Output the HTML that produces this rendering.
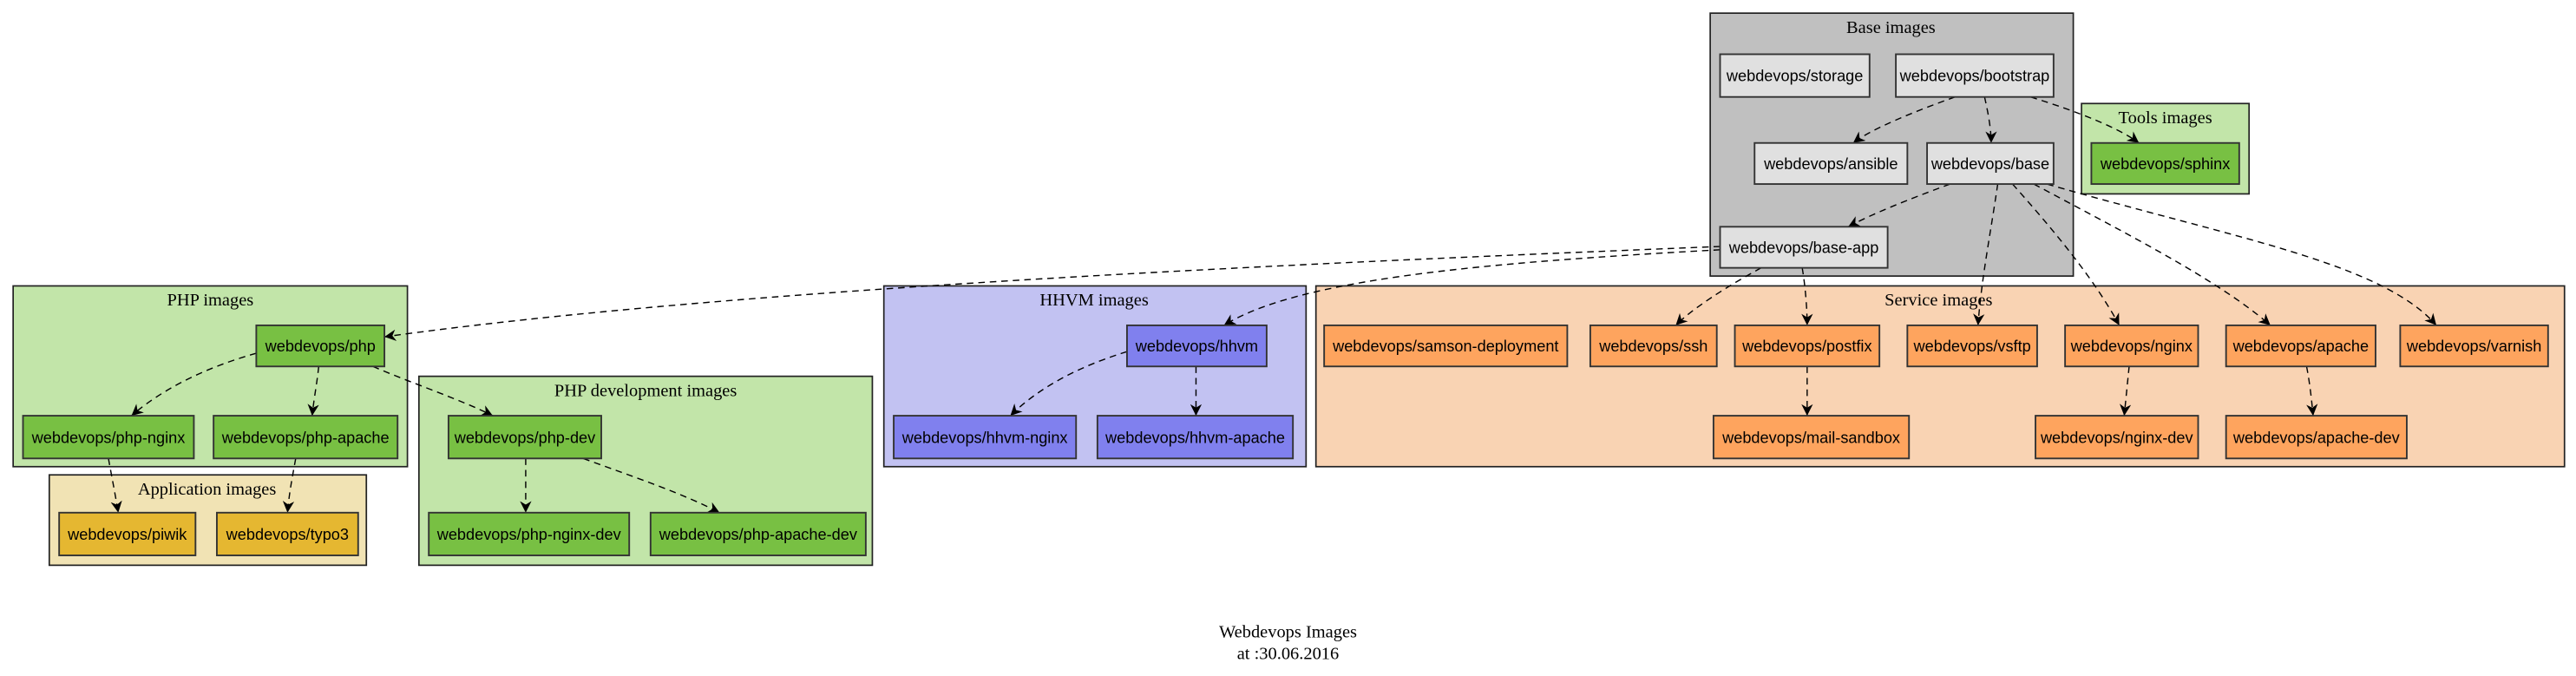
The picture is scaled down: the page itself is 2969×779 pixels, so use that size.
<!DOCTYPE html>
<html><head><meta charset="utf-8"><style>
html,body{margin:0;padding:0;background:#fff;width:2969px;height:779px;overflow:hidden}
svg{display:block}
.n{stroke:#333;stroke-width:1}
.nt{font-family:"Liberation Sans",sans-serif;font-size:9.6px;text-anchor:middle;fill:#000}
.ct{font-family:"Liberation Serif",serif;font-size:10.8px;text-anchor:middle;fill:#000}
.c{stroke:#222;stroke-width:0.9}
.e{fill:none;stroke:#000;stroke-width:0.75;stroke-dasharray:4,3;marker-end:url(#v)}
</style></head><body>
<svg width="2969" height="779" viewBox="0 0 1568 411.4" preserveAspectRatio="none">
<defs><marker id="v" viewBox="0 0 10 10" refX="10" refY="5" markerWidth="7" markerHeight="7" orient="auto" markerUnits="userSpaceOnUse"><path d="M0,0 L10,5 L0,10 L3,5 z" fill="#000"/></marker></defs>
<!-- clusters -->
<rect class="c" x="1041" y="8" width="221" height="160" fill="#c0c0c0"/>
<text class="ct" x="1151" y="20">Base images</text>
<rect class="c" x="1267" y="63" width="102" height="55" fill="#c2e5a9"/>
<text class="ct" x="1318" y="75">Tools images</text>
<rect class="c" x="8" y="174" width="240" height="110" fill="#c2e5a9"/>
<text class="ct" x="128" y="186">PHP images</text>
<rect class="c" x="30" y="289" width="193" height="55" fill="#f1e3b4"/>
<text class="ct" x="126" y="301">Application images</text>
<rect class="c" x="255" y="229" width="276" height="115" fill="#c2e5a9"/>
<text class="ct" x="393" y="241">PHP development images</text>
<rect class="c" x="538" y="174" width="257" height="110" fill="#c2c2f2"/>
<text class="ct" x="666" y="186">HHVM images</text>
<rect class="c" x="801" y="174" width="760" height="110" fill="#f9d3b3"/>
<text class="ct" x="1180" y="186">Service images</text>
<!-- edges -->
<path class="e" d="M1190,59 C1165,68 1140,78 1128,87"/>
<path class="e" d="M1208,59 C1210,68 1212,78 1212,87"/>
<path class="e" d="M1236,59 C1265,68 1290,78 1302,87"/>
<path class="e" d="M1187,112 C1160,122 1140,130 1125,138"/>
<path class="e" d="M1216,112 C1212,140 1206,170 1204,198"/>
<path class="e" d="M1225,112 C1250,140 1275,170 1290,198"/>
<path class="e" d="M1238,112 C1290,140 1350,170 1382,198"/>
<path class="e" d="M1246,112 C1360,145 1450,160 1483,198"/>
<path class="e" d="M1072,163 C1050,175 1030,188 1020,198"/>
<path class="e" d="M1097,163 C1099,175 1100,188 1100,198"/>
<path class="e" d="M1047,150 C800,160 450,175 234,205"/>
<path class="e" d="M1047,152 C900,160 790,170 745,198"/>
<path class="e" d="M156,215 C120,225 95,240 80,253"/>
<path class="e" d="M194,223 C193,233 191,243 190,253"/>
<path class="e" d="M227,223 C250,233 280,243 300,253"/>
<path class="e" d="M66,279 C68,290 70,300 72,312"/>
<path class="e" d="M180,279 C178,290 176,300 175,312"/>
<path class="e" d="M320,279 L320,312"/>
<path class="e" d="M355,279 C385,290 415,300 438,312"/>
<path class="e" d="M686,214 C650,225 628,240 615,253"/>
<path class="e" d="M728,223 L728,253"/>
<path class="e" d="M1100,223 L1100,253"/>
<path class="e" d="M1296,223 C1295,233 1294,243 1293,253"/>
<path class="e" d="M1404,223 C1406,233 1407,243 1408,253"/>
<!-- nodes -->
<g class="n">
<rect x="1047" y="33" width="91" height="26" fill="#e0e0e0"/>
<rect x="1154" y="33" width="96" height="26" fill="#e0e0e0"/>
<rect x="1068" y="87" width="93" height="25" fill="#e0e0e0"/>
<rect x="1173" y="87" width="77" height="25" fill="#e0e0e0"/>
<rect x="1047" y="138" width="102" height="25" fill="#e0e0e0"/>
<rect x="1273" y="87" width="90" height="25" fill="#78c043"/>
<rect x="156" y="198" width="78" height="25" fill="#78c043"/>
<rect x="14" y="253" width="104" height="26" fill="#78c043"/>
<rect x="130" y="253" width="112" height="26" fill="#78c043"/>
<rect x="36" y="312" width="83" height="26" fill="#e5b731"/>
<rect x="132" y="312" width="86" height="26" fill="#e5b731"/>
<rect x="273" y="253" width="93" height="26" fill="#78c043"/>
<rect x="261" y="312" width="122" height="26" fill="#78c043"/>
<rect x="396" y="312" width="131" height="26" fill="#78c043"/>
<rect x="686" y="198" width="85" height="25" fill="#8080ee"/>
<rect x="544" y="253" width="111" height="26" fill="#8080ee"/>
<rect x="668" y="253" width="119" height="26" fill="#8080ee"/>
<rect x="806" y="198" width="148" height="25" fill="#fea45e"/>
<rect x="968" y="198" width="77" height="25" fill="#fea45e"/>
<rect x="1056" y="198" width="88" height="25" fill="#fea45e"/>
<rect x="1161" y="198" width="79" height="25" fill="#fea45e"/>
<rect x="1257" y="198" width="81" height="25" fill="#fea45e"/>
<rect x="1355" y="198" width="91" height="25" fill="#fea45e"/>
<rect x="1461" y="198" width="90" height="25" fill="#fea45e"/>
<rect x="1043" y="253" width="119" height="26" fill="#fea45e"/>
<rect x="1239" y="253" width="99" height="26" fill="#fea45e"/>
<rect x="1355" y="253" width="110" height="26" fill="#fea45e"/>
</g>
<g class="nt">
<text x="1092.5" y="49.5">webdevops/storage</text>
<text x="1202" y="49.5">webdevops/bootstrap</text>
<text x="1114.5" y="103">webdevops/ansible</text>
<text x="1211.5" y="103">webdevops/base</text>
<text x="1098" y="154">webdevops/base-app</text>
<text x="1318" y="103">webdevops/sphinx</text>
<text x="195" y="214">webdevops/php</text>
<text x="66" y="269.5">webdevops/php-nginx</text>
<text x="186" y="269.5">webdevops/php-apache</text>
<text x="77.5" y="328.5">webdevops/piwik</text>
<text x="175" y="328.5">webdevops/typo3</text>
<text x="319.5" y="269.5">webdevops/php-dev</text>
<text x="322" y="328.5">webdevops/php-nginx-dev</text>
<text x="461.5" y="328.5">webdevops/php-apache-dev</text>
<text x="728.5" y="214">webdevops/hhvm</text>
<text x="599.5" y="269.5">webdevops/hhvm-nginx</text>
<text x="727.5" y="269.5">webdevops/hhvm-apache</text>
<text x="880" y="214">webdevops/samson-deployment</text>
<text x="1006.5" y="214">webdevops/ssh</text>
<text x="1100" y="214">webdevops/postfix</text>
<text x="1200.5" y="214">webdevops/vsftp</text>
<text x="1297.5" y="214">webdevops/nginx</text>
<text x="1400.5" y="214">webdevops/apache</text>
<text x="1506" y="214">webdevops/varnish</text>
<text x="1102.5" y="269.5">webdevops/mail-sandbox</text>
<text x="1288.5" y="269.5">webdevops/nginx-dev</text>
<text x="1410" y="269.5">webdevops/apache-dev</text>
</g>
<text class="ct" x="784" y="388">Webdevops Images</text>
<text class="ct" x="784" y="401">at :30.06.2016</text>
</svg>
</body></html>
